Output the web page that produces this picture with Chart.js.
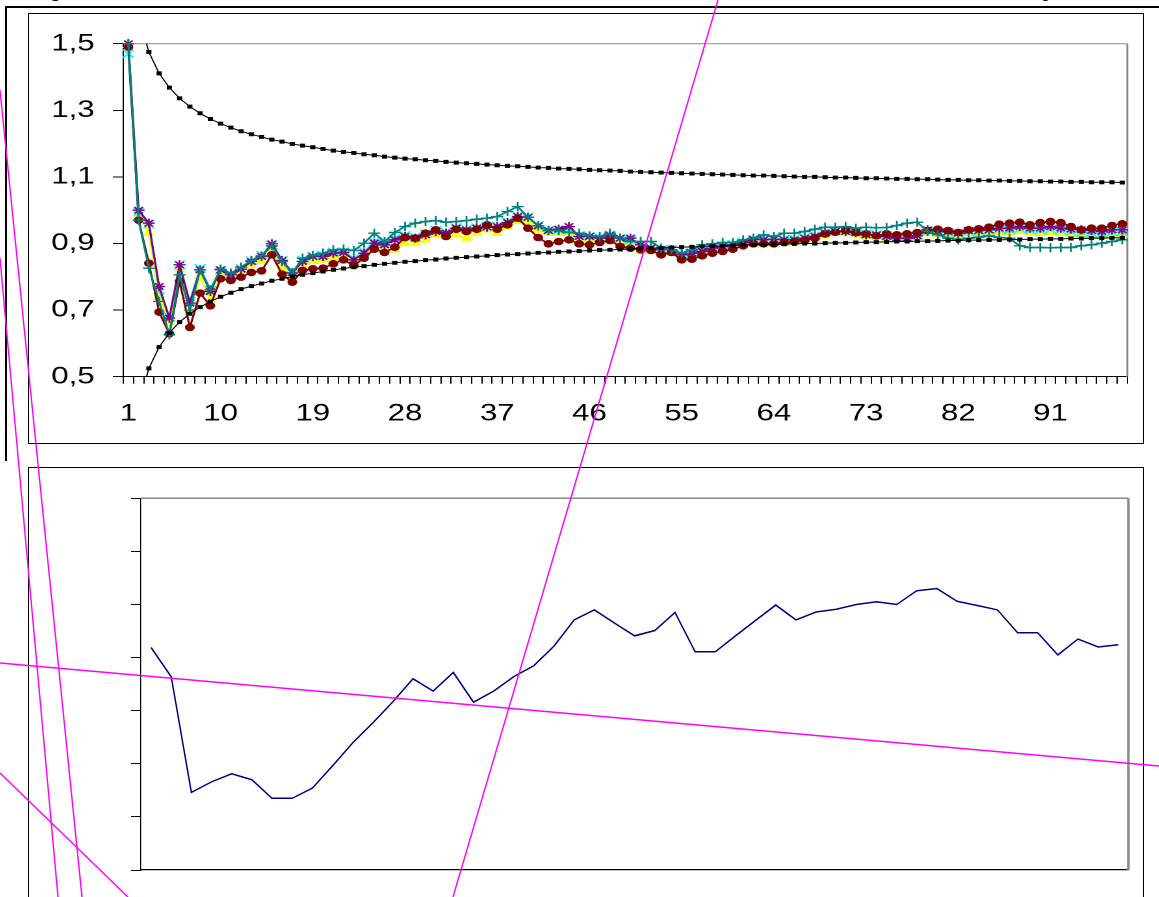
<!DOCTYPE html>
<html><head><meta charset="utf-8">
<script src="https://cdn.jsdelivr.net/npm/chart.js@4.4.1/dist/chart.umd.min.js"></script>
<style>
html,body{margin:0;padding:0;background:#fff;width:1159px;height:897px;overflow:hidden;position:relative;}
.abs{position:absolute;}
#caption{left:36px;top:-17px;width:1090px;font:bold 17px "Liberation Serif",serif;line-height:17px;white-space:nowrap;color:#000;text-align:justify;text-align-last:justify;}
#rule{left:5px;top:6px;width:1154px;height:2px;background:#000;}
#vrule{left:5px;top:6px;width:2px;height:455px;background:#000;}
#frame1{left:28px;top:13px;width:1114px;height:429px;border:1px solid #000;}
#frame2{left:28px;top:467px;width:1114px;height:500px;border:1px solid #000;}
#wrap1{left:29px;top:14px;width:857px;height:429px;transform:scaleX(1.3);transform-origin:0 0;}
#wrap2{left:29px;top:468px;width:1114px;height:429px;}
#overlay{left:0;top:0;width:1159px;height:897px;pointer-events:none;}
</style>
</head>
<body>
<div id="caption" class="abs">Figure 3: Estimates of the autocorrelation of the MA series for different sets of parameters</div>
<div id="rule" class="abs"></div>
<div id="vrule" class="abs"></div>
<div id="frame1" class="abs"></div>
<div id="frame2" class="abs"></div>
<div id="wrap1" class="abs"><canvas id="c1" width="857" height="429"></canvas></div>
<div id="wrap2" class="abs"><canvas id="c2" width="1114" height="429"></canvas></div>
<div id="overlay" class="abs"><canvas id="c3" width="1159" height="897"></canvas></div>
<script>
// ---------- DATA ----------
const categories = ["1","2","3","4","5","6","7","8","9","10","11","12","13","14","15","16","17","18","19","20",
"21","22","23","24","25","26","27","28","29","30","31","32","33","34","35","36","37","38","39","40",
"41","42","43","44","45","46","47","48","49","50","51","52","53","54","55","56","57","58","59","60",
"61","62","63","64","65","66","67","68","69","70","71","72","73","74","75","76","77","78","79","80",
"81","82","83","84","85","86","87","88","89","90","91","92","93","94","95","96","97","98"];
const xTickLabels = ["1","10","19","28","37","46","55","64","73","82","91"];
const yTickValues = [0.5,0.7,0.9,1.1,1.3,1.5];

const upperBand = [1.823,1.582,1.475,1.411,1.368,1.336,1.311,1.291,1.274,1.260,
1.248,1.237,1.228,1.220,1.212,1.206,1.199,1.194,1.189,1.184,
1.179,1.175,1.172,1.168,1.165,1.161,1.158,1.155,1.153,1.150,
1.148,1.145,1.143,1.141,1.139,1.137,1.135,1.133,1.132,1.130,
1.128,1.127,1.125,1.124,1.123,1.121,1.120,1.119,1.118,1.116,
1.115,1.114,1.113,1.112,1.111,1.110,1.109,1.108,1.107,1.106,
1.105,1.104,1.104,1.103,1.102,1.101,1.100,1.100,1.099,1.098,
1.098,1.097,1.096,1.096,1.095,1.094,1.094,1.093,1.093,1.092,
1.091,1.091,1.090,1.090,1.089,1.089,1.088,1.088,1.087,1.087,
1.086,1.086,1.085,1.085,1.084,1.084,1.084,1.083];

const lowerBand = [0.178,0.418,0.525,0.589,0.632,0.664,0.689,0.709,0.726,0.740,
0.752,0.763,0.772,0.780,0.788,0.794,0.801,0.806,0.811,0.816,
0.821,0.825,0.829,0.832,0.836,0.839,0.842,0.845,0.847,0.850,
0.852,0.855,0.857,0.859,0.861,0.863,0.865,0.867,0.868,0.870,
0.872,0.873,0.875,0.876,0.877,0.879,0.880,0.881,0.882,0.884,
0.885,0.886,0.887,0.888,0.889,0.890,0.891,0.892,0.893,0.894,
0.895,0.896,0.896,0.897,0.898,0.899,0.900,0.900,0.901,0.902,
0.902,0.903,0.904,0.904,0.905,0.906,0.906,0.907,0.907,0.908,
0.909,0.909,0.910,0.910,0.911,0.911,0.912,0.912,0.913,0.913,
0.914,0.914,0.915,0.915,0.916,0.916,0.917,0.917];

const seriesTeal = [1.5,0.97,0.826,0.726,0.626,0.806,0.70,0.821,0.761,0.823,
0.811,0.829,0.849,0.863,0.893,0.846,0.811,0.856,0.864,0.871,
0.881,0.883,0.879,0.901,0.931,0.906,0.933,0.951,0.961,0.966,
0.969,0.964,0.966,0.969,0.973,0.976,0.981,0.996,1.011,0.979,
0.953,0.939,0.939,0.933,0.931,0.923,0.921,0.931,0.916,0.906,
0.906,0.906,0.886,0.881,0.871,0.881,0.896,0.899,0.903,0.903,
0.911,0.916,0.926,0.921,0.931,0.931,0.936,0.943,0.949,0.949,
0.951,0.946,0.949,0.947,0.948,0.954,0.961,0.964,0.936,0.926,
0.916,0.911,0.916,0.919,0.923,0.918,0.916,0.893,0.888,0.888,
0.887,0.888,0.888,0.893,0.896,0.901,0.906,0.911];

const seriesPurple = [1.5,1.0,0.961,0.771,0.676,0.836,0.721,0.821,0.756,0.821,
0.806,0.823,0.846,0.861,0.899,0.849,0.813,0.846,0.861,0.861,
0.871,0.873,0.851,0.871,0.901,0.896,0.911,0.921,0.916,0.926,
0.936,0.931,0.946,0.941,0.946,0.949,0.951,0.963,0.981,0.979,
0.953,0.939,0.943,0.951,0.921,0.921,0.916,0.926,0.916,0.916,
0.896,0.886,0.881,0.881,0.866,0.871,0.876,0.886,0.891,0.896,
0.903,0.913,0.911,0.913,0.911,0.911,0.916,0.921,0.931,0.936,
0.936,0.933,0.926,0.926,0.921,0.916,0.916,0.923,0.941,0.936,
0.936,0.931,0.939,0.939,0.941,0.946,0.946,0.951,0.946,0.946,
0.951,0.946,0.943,0.941,0.939,0.936,0.941,0.941];

const seriesCyan = [1.47,0.995,0.958,0.76,0.68,0.836,0.726,0.826,0.76,0.82,
0.808,0.825,0.848,0.865,0.896,0.85,0.815,0.85,0.862,0.865,
0.875,0.876,0.855,0.875,0.905,0.9,0.915,0.925,0.92,0.93,
0.94,0.935,0.948,0.943,0.948,0.951,0.953,0.966,0.983,0.98,
0.955,0.94,0.94,0.94,0.925,0.922,0.918,0.926,0.915,0.91,
0.895,0.888,0.883,0.882,0.868,0.873,0.878,0.888,0.893,0.898,
0.905,0.912,0.913,0.913,0.913,0.914,0.918,0.924,0.934,0.938,
0.938,0.935,0.929,0.928,0.924,0.92,0.92,0.926,0.938,0.935,
0.933,0.93,0.936,0.937,0.939,0.943,0.941,0.945,0.94,0.94,
0.943,0.94,0.936,0.933,0.932,0.93,0.934,0.935];

const seriesYellow = [1.495,0.985,0.931,0.741,0.661,0.821,0.696,0.801,0.731,0.806,
0.801,0.811,0.836,0.846,0.886,0.826,0.796,0.833,0.846,0.851,
0.856,0.861,0.846,0.866,0.891,0.881,0.881,0.901,0.901,0.911,
0.926,0.921,0.926,0.916,0.931,0.941,0.931,0.949,0.966,0.966,
0.941,0.931,0.931,0.931,0.916,0.911,0.906,0.911,0.903,0.896,
0.876,0.876,0.871,0.871,0.861,0.861,0.869,0.879,0.886,0.889,
0.896,0.901,0.899,0.899,0.901,0.903,0.906,0.913,0.923,0.931,
0.933,0.926,0.921,0.919,0.916,0.913,0.913,0.919,0.931,0.928,
0.926,0.924,0.93,0.929,0.931,0.934,0.931,0.936,0.931,0.93,
0.933,0.931,0.926,0.923,0.921,0.921,0.926,0.926];

const seriesRed = [1.49,0.97,0.841,0.694,0.629,0.786,0.648,0.751,0.713,0.794,
0.789,0.799,0.813,0.818,0.866,0.808,0.784,0.819,0.824,0.826,
0.839,0.851,0.834,0.856,0.883,0.873,0.889,0.918,0.916,0.931,
0.941,0.921,0.943,0.936,0.943,0.956,0.943,0.956,0.976,0.946,
0.918,0.899,0.906,0.911,0.899,0.896,0.903,0.909,0.891,0.886,
0.881,0.879,0.866,0.873,0.851,0.853,0.863,0.871,0.876,0.883,
0.893,0.899,0.899,0.899,0.903,0.906,0.909,0.916,0.929,0.934,
0.939,0.933,0.929,0.923,0.929,0.926,0.929,0.933,0.939,0.943,
0.939,0.933,0.941,0.944,0.949,0.958,0.961,0.964,0.956,0.963,
0.966,0.963,0.951,0.941,0.946,0.946,0.954,0.959];

const bottomCategories = ["1","2","3","4","5","6","7","8","9","10","11","12","13","14","15","16","17","18","19","20",
"21","22","23","24","25","26","27","28","29","30","31","32","33","34","35","36","37","38","39","40",
"41","42","43","44","45","46","47","48","49"];
const bottomSeries = [4.19,3.64,1.46,1.66,1.81,1.70,1.35,1.35,1.54,1.96,
2.39,2.77,3.17,3.60,3.37,3.72,3.16,3.37,3.64,3.85,
4.22,4.71,4.90,4.65,4.41,4.51,4.85,4.11,4.11,4.41,
4.70,4.99,4.71,4.86,4.91,5.00,5.05,5.00,5.26,5.30,
5.06,4.98,4.90,4.47,4.47,4.05,4.35,4.20,4.24];
const bottomTickValues = [0,1,2,3,4,5,6,7];

// magenta pen strokes over the scanned page (page coordinates)
const strokeA = [{x:0,y:90},{x:82,y:897}];
const strokeB = [{x:0,y:258},{x:58,y:897}];
const strokeC = [{x:0,y:773},{x:128,y:897}];
const strokeD = [{x:718,y:0},{x:453,y:897}];
const strokeE = [{x:0,y:663},{x:1159,y:766}];

// ---------- CHARTS ----------
Chart.defaults.font.family = '"Liberation Sans", Arial, sans-serif';
Chart.defaults.color = '#000';

const plotFrame = {
  id: 'plotFrame',
  beforeDatasetsDraw(chart, args, opts) {
    const {ctx, chartArea: a} = chart;
    ctx.save();
    ctx.strokeStyle = opts.color;
    ctx.lineWidth = opts.topWidth;
    ctx.beginPath(); ctx.moveTo(a.left, a.top); ctx.lineTo(a.right, a.top); ctx.stroke();
    ctx.lineWidth = opts.rightWidth;
    ctx.beginPath(); ctx.moveTo(a.right, a.top); ctx.lineTo(a.right, a.bottom); ctx.stroke();
    ctx.restore();
  }
};

function lineSet(data, color, style, radius, lineW, order, clip, ptW) {
  return {
    data: data, borderColor: color, borderWidth: lineW,
    pointStyle: style, pointRadius: radius, pointHoverRadius: radius,
    pointBorderColor: color, pointBackgroundColor: color, pointBorderWidth: ptW,
    tension: 0, order: order, clip: clip
  };
}

new Chart(document.getElementById('c1'), {
  type: 'line',
  data: {
    labels: categories,
    datasets: [
      lineSet(upperBand, '#000000', 'rect', 2.1, 1, 0, 0, 1),
      lineSet(lowerBand, '#000000', 'rect', 2.1, 1, 0, 0, 1),
      lineSet(seriesTeal, '#008080', 'cross', 4.6, 1.6, 1, 8, 1.4),
      lineSet(seriesRed, '#800000', 'circle', 3.2, 1.6, 2, 8, 1.2),
      lineSet(seriesPurple, '#800080', 'star', 4.6, 1.6, 3, 8, 1.4),
      lineSet(seriesCyan, '#00FFFF', 'crossRot', 5.8, 1.6, 4, 8, 1.4),
      lineSet(seriesYellow, '#FFFF00', 'triangle', 4.1, 1.6, 5, 8, 1.2)
    ]
  },
  options: {
    responsive: false, animation: false, devicePixelRatio: 2,
    events: [],
    layout: { padding: { top: 29.7, right: 10.1, left: 0, bottom: 0 } },
    plugins: { legend: { display: false }, tooltip: { enabled: false },
      plotFrame: { color: '#888888', topWidth: 1, rightWidth: 1.5 } },
    scales: {
      x: {
        type: 'category', offset: true,
        grid: { offset: true, drawOnChartArea: false, drawTicks: true, tickLength: 7, color: '#000', lineWidth: 1 },
        border: { display: true, color: '#000', width: 1 },
        ticks: { autoSkip: false, maxRotation: 0, minRotation: 0, padding: 16,
          font: { size: 24 }, color: '#000',
          callback: function (v, i) { const l = categories[i]; return xTickLabels.includes(l) ? l : ''; } },
        afterFit: (s) => { s.height = 66.3; }
      },
      y: {
        min: 0.5, max: 1.5,
        afterBuildTicks: (axis) => { axis.ticks = yTickValues.map(v => ({ value: v })); },
        grid: { drawOnChartArea: false, drawTicks: true, tickLength: 8, color: '#000', lineWidth: 1 },
        border: { display: true, color: '#000', width: 1 },
        ticks: { padding: 14, font: { size: 24 }, color: '#000',
          callback: (v) => Number(v).toFixed(1).replace('.', ',') },
        afterFit: (s) => { s.width = 72.5; }
      }
    }
  },
  plugins: [plotFrame]
});

new Chart(document.getElementById('c2'), {
  type: 'line',
  data: {
    labels: bottomCategories,
    datasets: [{ data: bottomSeries, borderColor: '#000080', borderWidth: 1.5, pointRadius: 0, tension: 0 }]
  },
  options: {
    responsive: false, animation: false, events: [],
    layout: { padding: { top: 30.3, right: 14.6, left: 0, bottom: 0 } },
    plugins: { legend: { display: false }, tooltip: { enabled: false },
      plotFrame: { color: '#8a8a8a', topWidth: 1.5, rightWidth: 2.5 } },
    scales: {
      x: {
        type: 'category', offset: true,
        grid: { display: false },
        border: { display: true, color: '#000', width: 1.2 },
        ticks: { display: false },
        afterFit: (s) => { s.height = 27; }
      },
      y: {
        min: 0, max: 7,
        afterBuildTicks: (axis) => { axis.ticks = bottomTickValues.map(v => ({ value: v })); },
        grid: { drawOnChartArea: false, drawTicks: true, tickLength: 10, color: '#000', lineWidth: 1 },
        border: { display: true, color: '#000', width: 1.2 },
        ticks: { callback: () => '' },
        afterFit: (s) => { s.width = 112; }
      }
    }
  },
  plugins: [plotFrame]
});

const strokeStyle = (pts) => ({ data: pts, showLine: true, borderColor: '#FF00FF', borderWidth: 1.4, pointRadius: 0, tension: 0 });
new Chart(document.getElementById('c3'), {
  type: 'scatter',
  data: { datasets: [strokeStyle(strokeA), strokeStyle(strokeB), strokeStyle(strokeC), strokeStyle(strokeD), strokeStyle(strokeE)] },
  options: {
    responsive: false, animation: false, events: [],
    layout: { padding: 0 },
    plugins: { legend: { display: false }, tooltip: { enabled: false } },
    scales: {
      x: { type: 'linear', min: 0, max: 1159, display: false },
      y: { type: 'linear', min: 0, max: 897, reverse: true, display: false }
    }
  }
});
</script>
</body></html>
